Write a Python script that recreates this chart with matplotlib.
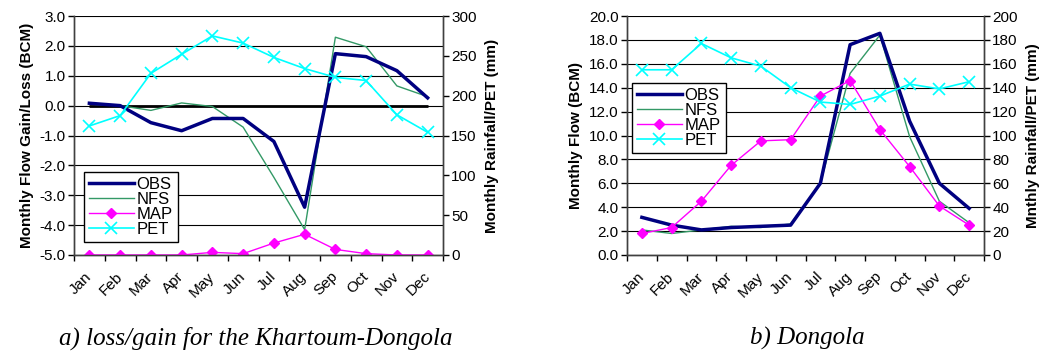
import numpy as np
import matplotlib
matplotlib.use('Agg')
import matplotlib.pyplot as plt

plt.rcParams['font.family'] = ['Liberation Sans', 'DejaVu Sans']

months = ['Jan', 'Feb', 'Mar', 'Apr', 'May', 'Jun', 'Jul', 'Aug', 'Sep', 'Oct', 'Nov', 'Dec']

# a) loss/gain Khartoum-Dongola
obs_a = [0.08, 0.0, -0.57, -0.84, -0.43, -0.43, -1.2, -3.4, 1.74, 1.64, 1.17, 0.26]
nfs_a = [0.05, 0.0, -0.16, 0.09, -0.03, -0.72, -2.4, -4.15, 2.29, 1.97, 0.66, 0.30]
map_a = [0, 0, 0, 0, 3.3, 1.7, 15, 26, 7, 1.7, 0, 0]
pet_a = [162, 175, 228, 252, 275, 266, 248, 234, 223, 219, 176, 154]

# b) Dongola
obs_b = [3.15, 2.5, 2.1, 2.3, 2.4, 2.5, 6.0, 17.6, 18.55, 11.2, 6.0, 3.9]
nfs_b = [2.1, 1.8, 2.1, 2.4, 2.3, 2.6, 6.0, 15.2, 18.4, 9.9, 4.5, 2.7]
map_b = [18, 23, 45, 75, 95.5, 96.5, 133, 146, 105, 74, 41, 25]
pet_b = [155, 155, 177, 165, 158, 140, 128, 126, 133, 143, 139, 145]

W, H = 1051, 352
fig = plt.figure(figsize=(W / 100, H / 100), dpi=100)
fs = 11


def make_axes(rect, ylim, yticks, ylim2, yticks2, ylab, ylab2, yfmt):
    ax = fig.add_axes([rect[0] / W, 1 - rect[3] / H, (rect[2] - rect[0]) / W, (rect[3] - rect[1]) / H])
    ax2 = ax.twinx()
    x = np.arange(12)
    ax.set_xlim(-0.5, 11.5)
    ax.set_ylim(*ylim)
    ax.set_yticks(yticks)
    ax.set_yticklabels([yfmt % v for v in yticks], fontsize=fs)
    ax.set_xticks(np.arange(-0.5, 12, 1))
    ax.set_xticklabels([])
    ax.tick_params(axis='x', which='major', length=4, direction='out', width=1)
    ax.set_xticks(x, minor=True)
    ax.set_xticklabels(months, minor=True, rotation=45, ha='right', va='center',
                       rotation_mode='anchor', fontsize=fs)
    ax.tick_params(axis='x', which='minor', length=0, pad=14)
    ax.tick_params(axis='y', length=4, direction='out', width=1, pad=2)
    ax.grid(axis='y', color='black', lw=0.8)
    ax.set_axisbelow(True)
    ax2.set_ylim(*ylim2)
    ax2.set_yticks(yticks2)
    ax2.set_yticklabels(['%d' % v for v in yticks2], fontsize=fs)
    ax2.tick_params(axis='y', length=4, direction='out', width=1, pad=2)
    for a in (ax, ax2):
        a.spines['top'].set_visible(False)
        for s in ('left', 'right', 'bottom'):
            a.spines[s].set_color('#404040')
            a.spines[s].set_linewidth(1)
    ax.set_ylabel(ylab, fontsize=fs, fontweight='bold', labelpad=4)
    ax2.set_ylabel(ylab2, fontsize=fs, fontweight='bold', labelpad=6)
    return ax, ax2, x


def draw(ax, ax2, x, obs, nfs, mp, pet, legpos):
    l1, = ax.plot(x, obs, color='#000080', lw=2.5, label='OBS', zorder=4)
    l2, = ax.plot(x, nfs, color='#339966', lw=1.0, label='NFS', zorder=3)
    l3, = ax2.plot(x, mp, color='#FF00FF', lw=1.0, marker='D', ms=5, label='MAP')
    l4, = ax2.plot(x, pet, color='#00FFFF', lw=1.2, marker='x', ms=8, mew=1.2, label='PET')
    leg = ax2.legend(handles=[l1, l2, l3, l4], loc='lower left', bbox_to_anchor=legpos,
                     fontsize=12, frameon=True, fancybox=False, edgecolor='black',
                     framealpha=1, labelspacing=0.0, handlelength=2.7, handletextpad=0.15,
                     borderpad=0.3, borderaxespad=0)
    leg.get_frame().set_linewidth(1)


ax, ax2, x = make_axes((74, 16, 443, 255), (-5, 3), np.arange(-5, 3.1, 1), (0, 300),
                       np.arange(0, 301, 50), 'Monthly Flow Gain/Loss (BCM)',
                       'Monthly Rainfall/PET (mm)', '%.1f')
ax.hlines(0, x[0], x[-1], color='black', lw=2, zorder=2)
draw(ax, ax2, x, obs_a, nfs_a, map_a, pet_a, (0.027, 0.054))

bx, bx2, x = make_axes((627, 16, 984, 255), (0, 20), np.arange(0, 20.1, 2), (0, 200),
                       np.arange(0, 201, 20), 'Monthly Flow (BCM)',
                       'Mnthly Rainfall/PET (mm)', '%.1f')
draw(bx, bx2, x, obs_b, nfs_b, map_b, pet_b, (0.014, 0.427))

fig.text(256 / W, 1 - 338 / H, 'a) loss/gain for the Khartoum-Dongola', ha='center', va='center',
         fontsize=18, style='italic', family='Liberation Serif')
fig.text(807 / W, 1 - 338 / H, 'b) Dongola', ha='center', va='center',
         fontsize=18, style='italic', family='Liberation Serif')

fig.savefig('out.png', dpi=100)
